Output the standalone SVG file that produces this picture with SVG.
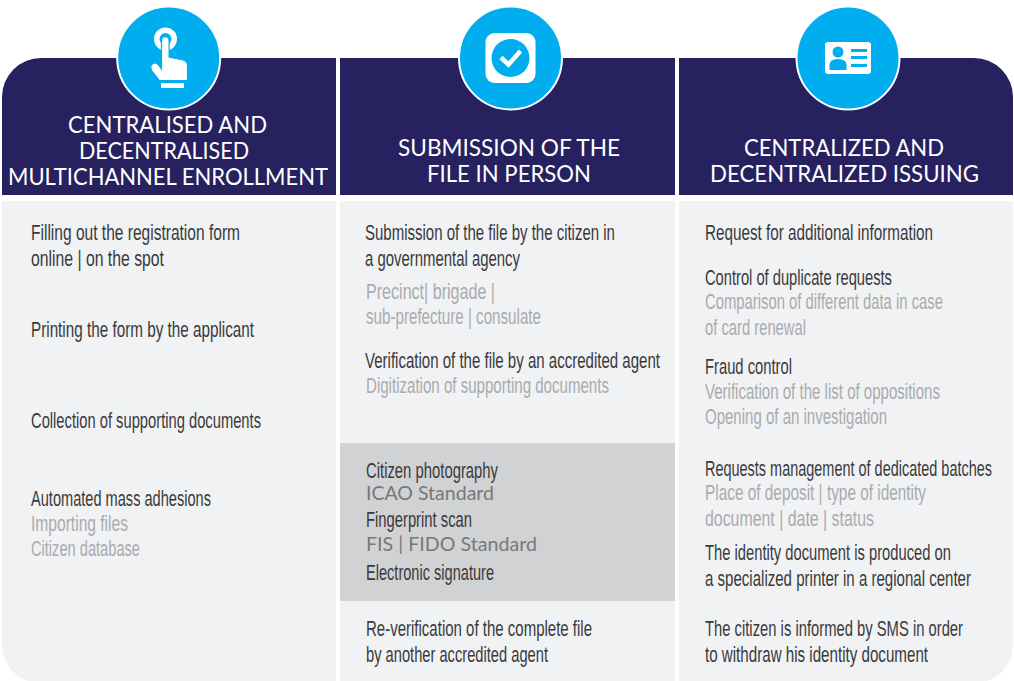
<svg xmlns="http://www.w3.org/2000/svg" width="1014" height="681" viewBox="0 0 1014 681">
<style>
text{font-family:"Liberation Sans",Arial,sans-serif;transform:translateY(1px)}
.t{fill:#fff;font-size:23px;font-family:Lato,"Liberation Sans",sans-serif}
.d,.g{font-size:21.500px;transform-box:fill-box;transform-origin:0 0;transform:translateY(1px) scaleX(.7)}
.d{fill:#3a3a3c}
.g{fill:#a9abae}
.s{fill:#77787b;font-size:19px;font-family:Lato,"Liberation Sans",sans-serif}
.h{fill:#27215f}
.b{fill:#f1f2f4}
.c{fill:#00aeef;stroke:#fff;stroke-width:2}
.w{fill:#fff}
.l{fill:#00aeef}
</style>
<rect width="1014" height="681" fill="#fff"/>
<g id="col1">
<path class="h" d="M2 195V97A39 39 0 0 1 41 58H336V195Z"/>
<path class="b" d="M2 201H336V681H28A38 38 0 0 1 2 645Z"/>
<circle class="c" cx="168.700" cy="58" r="51.500"/>
<circle class="w" cx="165.500" cy="39" r="11.500"/>
<circle class="l" cx="165.500" cy="39" r="6"/>
<path class="w" stroke="#00aeef" stroke-width="1.200" d="M161.500 40.500a3.800 3.800 0 0 1 7.600 0V57L183 60Q187.500 61 187.500 66V80.500H159.500L152 71Q149 66 153 63.500Q156 62 158.500 65L161.500 69Z"/>
<rect class="w" x="161" y="83" width="23" height="5"/>
<text class="t" x="68" y="132" textLength="199" lengthAdjust="spacingAndGlyphs">CENTRALISED AND</text>
<text class="t" x="79" y="158" textLength="170" lengthAdjust="spacingAndGlyphs">DECENTRALISED</text>
<text class="t" x="8" y="184" textLength="320" lengthAdjust="spacingAndGlyphs">MULTICHANNEL ENROLLMENT</text>
<text class="d" x="31" y="239" textLength="298.600" lengthAdjust="spacingAndGlyphs">Filling out the registration form</text>
<text class="d" x="31" y="265" textLength="190" lengthAdjust="spacingAndGlyphs">online | on the spot</text>
<text class="d" x="31" y="336" textLength="318.600" lengthAdjust="spacingAndGlyphs">Printing the form by the applicant</text>
<text class="d" x="31" y="427" textLength="328.600" lengthAdjust="spacingAndGlyphs">Collection of supporting documents</text>
<text class="d" x="31" y="505" textLength="257.100" lengthAdjust="spacingAndGlyphs">Automated mass adhesions</text>
<text class="g" x="31" y="530" textLength="138.600" lengthAdjust="spacingAndGlyphs">Importing files</text>
<text class="g" x="31" y="555" textLength="155.700" lengthAdjust="spacingAndGlyphs">Citizen database</text>
</g>
<g id="col2">
<rect class="h" x="340" y="58" width="335" height="137"/>
<rect class="b" x="340" y="201" width="335" height="480"/>
<rect x="340" y="443" width="335" height="158" fill="#d1d2d4"/>
<circle class="c" cx="510.500" cy="58" r="51.500"/>
<rect class="w" x="485.500" y="33" width="50" height="50" rx="9"/>
<circle class="l" cx="510.500" cy="58" r="19"/>
<path d="M501 57.500L508.500 64.500L520.500 51" fill="none" stroke="#fff" stroke-width="4.500"/>
<text class="t" x="398" y="155" textLength="222" lengthAdjust="spacingAndGlyphs">SUBMISSION OF THE</text>
<text class="t" x="427" y="181" textLength="164" lengthAdjust="spacingAndGlyphs">FILE IN PERSON</text>
<text class="d" x="365" y="239" textLength="357.100" lengthAdjust="spacingAndGlyphs">Submission of the file by the citizen in</text>
<text class="d" x="365" y="265" textLength="221.400" lengthAdjust="spacingAndGlyphs">a governmental agency</text>
<text class="g" x="366" y="298" textLength="184.300" lengthAdjust="spacingAndGlyphs">Precinct| brigade |</text>
<text class="g" x="366" y="323" textLength="250" lengthAdjust="spacingAndGlyphs">sub-prefecture | consulate</text>
<text class="d" x="365" y="367" textLength="421.400" lengthAdjust="spacingAndGlyphs">Verification of the file by an accredited agent</text>
<text class="g" x="366" y="392" textLength="347.100" lengthAdjust="spacingAndGlyphs">Digitization of supporting documents</text>
<text class="d" x="366" y="477" textLength="188.600" lengthAdjust="spacingAndGlyphs">Citizen photography</text>
<text class="s" x="366" y="499" textLength="128" lengthAdjust="spacingAndGlyphs">ICAO Standard</text>
<text class="d" x="366" y="526" textLength="151.400" lengthAdjust="spacingAndGlyphs">Fingerprint scan</text>
<text class="s" x="366" y="550" textLength="171" lengthAdjust="spacingAndGlyphs">FIS | FIDO Standard</text>
<text class="d" x="366" y="579" textLength="182.900" lengthAdjust="spacingAndGlyphs">Electronic signature</text>
<text class="d" x="366" y="635" textLength="322.900" lengthAdjust="spacingAndGlyphs">Re-verification of the complete file</text>
<text class="d" x="366" y="661" textLength="260" lengthAdjust="spacingAndGlyphs">by another accredited agent</text>
</g>
<g id="col3">
<path class="h" d="M679 58H974A39 39 0 0 1 1013 97V195H679Z"/>
<path class="b" d="M679 201H1013V645A38 38 0 0 1 987 681H679Z"/>
<circle class="c" cx="848" cy="58" r="51.500"/>
<rect class="w" x="825" y="42" width="46" height="32" rx="3"/>
<circle class="l" cx="838" cy="52" r="5.500"/>
<path class="l" d="M829.500 70V65Q829.500 59 838 59Q846.500 59 846.500 65V70Z"/>
<rect class="l" x="851" y="49" width="16" height="3"/>
<rect class="l" x="851" y="56" width="16" height="3"/>
<rect class="l" x="851" y="64" width="16" height="3"/>
<text class="t" x="744" y="155" textLength="200" lengthAdjust="spacingAndGlyphs">CENTRALIZED AND</text>
<text class="t" x="710" y="181" textLength="269" lengthAdjust="spacingAndGlyphs">DECENTRALIZED ISSUING</text>
<text class="d" x="705" y="239" textLength="325.700" lengthAdjust="spacingAndGlyphs">Request for additional information</text>
<text class="d" x="705" y="284" textLength="267.100" lengthAdjust="spacingAndGlyphs">Control of duplicate requests</text>
<text class="g" x="705" y="308" textLength="340" lengthAdjust="spacingAndGlyphs">Comparison of different data in case</text>
<text class="g" x="705" y="334" textLength="144.300" lengthAdjust="spacingAndGlyphs">of card renewal</text>
<text class="d" x="705" y="373" textLength="124.300" lengthAdjust="spacingAndGlyphs">Fraud control</text>
<text class="g" x="705" y="398" textLength="335.700" lengthAdjust="spacingAndGlyphs">Verification of the list of oppositions</text>
<text class="g" x="705" y="423" textLength="260" lengthAdjust="spacingAndGlyphs">Opening of an investigation</text>
<text class="d" x="705" y="475" textLength="410" lengthAdjust="spacingAndGlyphs">Requests management of dedicated batches</text>
<text class="g" x="705" y="499" textLength="315.700" lengthAdjust="spacingAndGlyphs">Place of deposit | type of identity</text>
<text class="g" x="705" y="525" textLength="241.400" lengthAdjust="spacingAndGlyphs">document | date | status</text>
<text class="d" x="705" y="559" textLength="351.400" lengthAdjust="spacingAndGlyphs">The identity document is produced on</text>
<text class="d" x="705" y="585" textLength="380" lengthAdjust="spacingAndGlyphs">a specialized printer in a regional center</text>
<text class="d" x="705" y="635" textLength="368.600" lengthAdjust="spacingAndGlyphs">The citizen is informed by SMS in order</text>
<text class="d" x="705" y="661" textLength="318.600" lengthAdjust="spacingAndGlyphs">to withdraw his identity document</text>
</g>
</svg>
